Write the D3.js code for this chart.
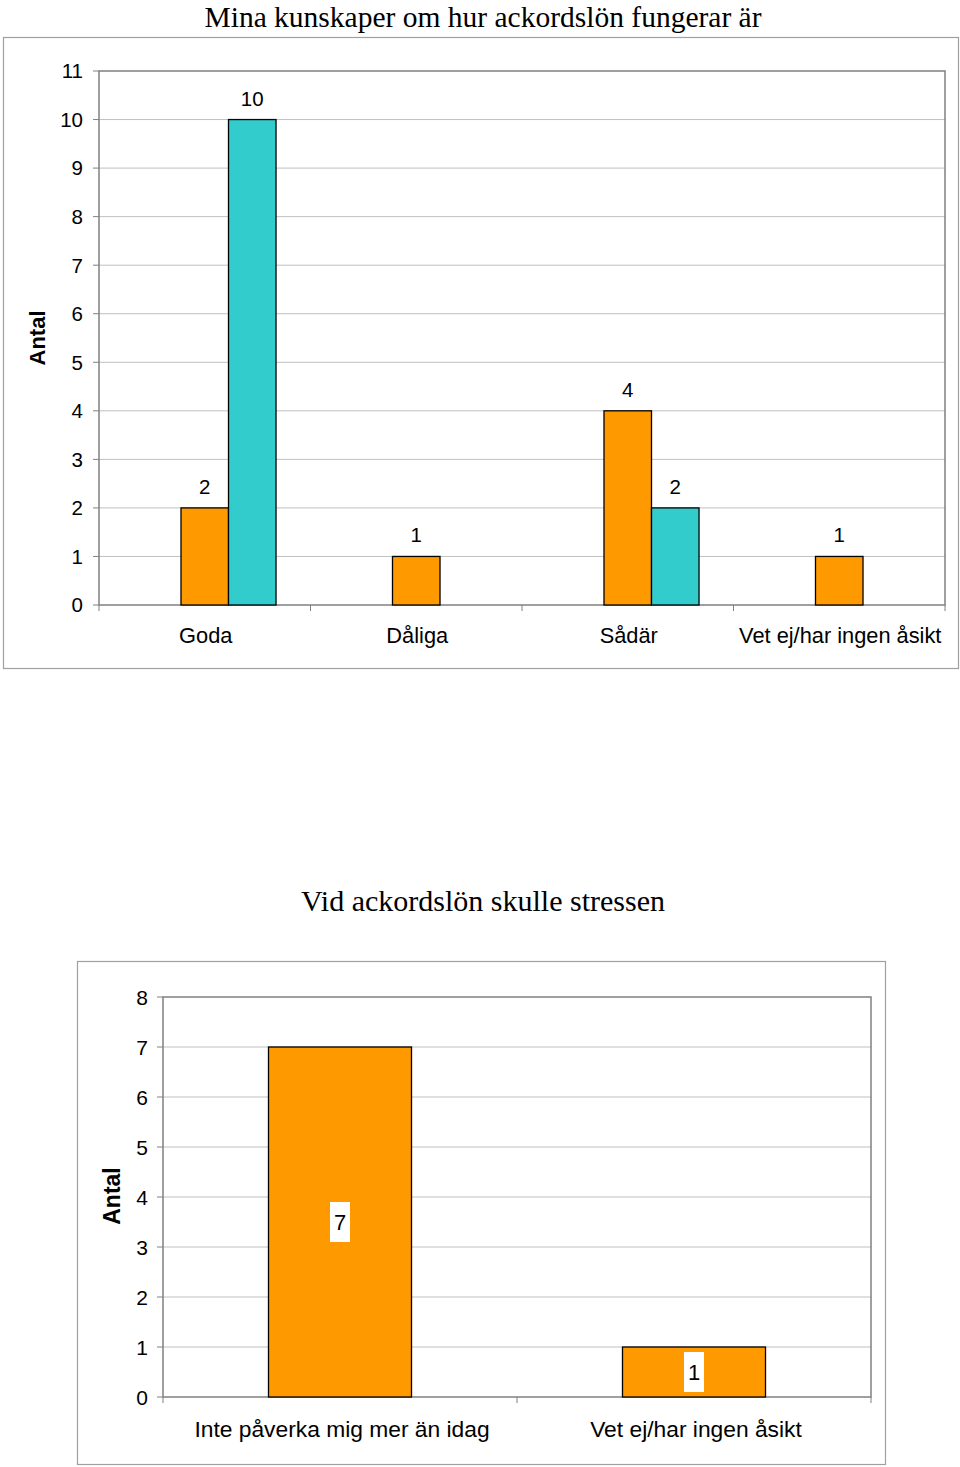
<!DOCTYPE html>
<html><head><meta charset="utf-8">
<script src="https://cdn.jsdelivr.net/npm/d3@7"></script>
<style>body{margin:0;background:#fff}svg{display:block}</style>
</head><body>
<script>
// Chart 1
const title1 = "Mina kunskaper om hur ackordslön fungerar är";
const cats1 = ["Goda", "Dåliga", "Sådär", "Vet ej/har ingen åsikt"];
const seriesA1 = [2, 1, 4, 1];      // orange
const seriesB1 = [10, null, 2, null]; // teal
const ticks1 = [0,1,2,3,4,5,6,7,8,9,10,11];
// Chart 2
const title2 = "Vid ackordslön skulle stressen";
const cats2 = ["Inte påverka mig mer än idag", "Vet ej/har ingen åsikt"];
const values2 = [7, 1];
const ticks2 = [0,1,2,3,4,5,6,7,8];
const yLabel = "Antal";

const ORANGE = "#FF9900", TEAL = "#33CCCC";
const W = 960, H = 1467;
const svg = d3.select("body").append("svg").attr("width", W).attr("height", H);
const sans = "Liberation Sans, Arial, sans-serif";
const serif = "Liberation Serif, Times New Roman, serif";

function frame(x0, y0, x1, y1){
  svg.append("rect").attr("x", x0+0.5).attr("y", y0+0.5).attr("width", x1-x0).attr("height", y1-y0)
    .attr("fill", "#fff").attr("stroke", "#a0a0a0").attr("stroke-width", 1.2);
}

function plotFrame(g, x, y, ticks, tickFont, tickRight){
  const [l, r] = x.range(); const [b, t] = y.range();
  ticks.forEach(v => {
    if (v > 0 && v < ticks[ticks.length-1])
      g.append("line").attr("x1", l).attr("x2", r).attr("y1", y(v)).attr("y2", y(v)).attr("stroke", "#c0c0c0").attr("stroke-width", 1);
    g.append("line").attr("x1", l-6).attr("x2", l).attr("y1", y(v)).attr("y2", y(v)).attr("stroke", "#808080");
    g.append("text").attr("x", tickRight).attr("y", y(v)).attr("dy", "0.36em").attr("text-anchor", "end")
      .attr("font-family", sans).attr("font-size", tickFont).text(v);
  });
  g.append("rect").attr("x", l).attr("y", t).attr("width", r-l).attr("height", b-t)
    .attr("fill", "none").attr("stroke", "#808080").attr("stroke-width", 1.5);
}

// ---------- Chart 1 ----------
frame(3, 37, 958, 668);
svg.append("text").attr("x", 483).attr("y", 26.5).attr("text-anchor", "middle")
  .attr("font-family", serif).attr("font-size", 29.5).text(title1);
const x1 = d3.scaleBand().domain(cats1).range([99, 945]).paddingInner(0.326).paddingOuter(0.163);
const xs1 = d3.scaleBand().domain(["empty", "A", "B"]).range([0, x1.bandwidth()]);
const y1 = d3.scaleLinear().domain([0, 11]).range([605, 71]);
const g1 = svg.append("g");
plotFrame(g1, x1, y1, ticks1, 20.5, 83);
// category ticks
const step1 = x1.step();
d3.range(cats1.length+1).forEach(i => {
  const xx = 99 + i*step1;
  g1.append("line").attr("x1", xx).attr("x2", xx).attr("y1", 605).attr("y2", 611).attr("stroke", "#808080");
});
const bars1 = [];
cats1.forEach((c, i) => {
  bars1.push({c, k: "A", v: seriesA1[i], col: ORANGE});
  if (seriesB1[i] != null) bars1.push({c, k: "B", v: seriesB1[i], col: TEAL});
});
g1.selectAll(".b1").data(bars1).enter().append("rect")
  .attr("x", d => x1(d.c) + xs1(d.k)).attr("width", xs1.bandwidth())
  .attr("y", d => y1(d.v)).attr("height", d => y1(0) - y1(d.v))
  .attr("fill", d => d.col).attr("stroke", "#000").attr("stroke-width", 1.3);
g1.selectAll(".l1").data(bars1).enter().append("text")
  .attr("x", d => x1(d.c) + xs1(d.k) + xs1.bandwidth()/2).attr("y", d => y1(d.v) - 14)
  .attr("text-anchor", "middle").attr("font-family", sans).attr("font-size", 20.5).text(d => d.v);
cats1.forEach(c => {
  g1.append("text").attr("x", x1(c) + xs1("A") + xs1.bandwidth()/2 + 1).attr("y", 643)
    .attr("text-anchor", "middle").attr("font-family", sans).attr("font-size", 21.8).text(c);
});
svg.append("text").attr("transform", "translate(45,338) rotate(-90)").attr("text-anchor", "middle")
  .attr("font-family", sans).attr("font-weight", "bold").attr("font-size", 22).text(yLabel);

// ---------- Chart 2 ----------
frame(77, 961, 885, 1464);
svg.append("text").attr("x", 483).attr("y", 911).attr("text-anchor", "middle")
  .attr("font-family", serif).attr("font-size", 30).text(title2);
const x2 = d3.scaleBand().domain(cats2).range([163, 871]).paddingInner(0.596).paddingOuter(0.298);
const y2 = d3.scaleLinear().domain([0, 8]).range([1397, 997]);
const g2 = svg.append("g");
plotFrame(g2, x2, y2, ticks2, 21, 148);
const step2 = x2.step();
d3.range(cats2.length+1).forEach(i => {
  const xx = 163 + i*step2;
  g2.append("line").attr("x1", xx).attr("x2", xx).attr("y1", 1397).attr("y2", 1403).attr("stroke", "#808080");
});
const bars2 = cats2.map((c, i) => ({c, v: values2[i]}));
g2.selectAll(".b2").data(bars2).enter().append("rect")
  .attr("x", d => x2(d.c)).attr("width", x2.bandwidth())
  .attr("y", d => y2(d.v)).attr("height", d => y2(0) - y2(d.v))
  .attr("fill", ORANGE).attr("stroke", "#000").attr("stroke-width", 1.3);
bars2.forEach(d => {
  const cx = x2(d.c) + x2.bandwidth()/2, cy = (y2(d.v) + y2(0))/2;
  g2.append("rect").attr("x", cx - 10).attr("y", cy - 20).attr("width", 20).attr("height", 40).attr("fill", "#fff");
  g2.append("text").attr("x", cx).attr("y", cy).attr("dy", "0.36em").attr("text-anchor", "middle")
    .attr("font-family", sans).attr("font-size", 22).text(d.v);
});
cats2.forEach(c => {
  g2.append("text").attr("x", x2(c) + x2.bandwidth()/2 + 2).attr("y", 1437)
    .attr("text-anchor", "middle").attr("font-family", sans).attr("font-size", 22.8).text(c);
});
svg.append("text").attr("transform", "translate(120,1196) rotate(-90)").attr("text-anchor", "middle")
  .attr("font-family", sans).attr("font-weight", "bold").attr("font-size", 23).text(yLabel);
</script>
</body></html>
